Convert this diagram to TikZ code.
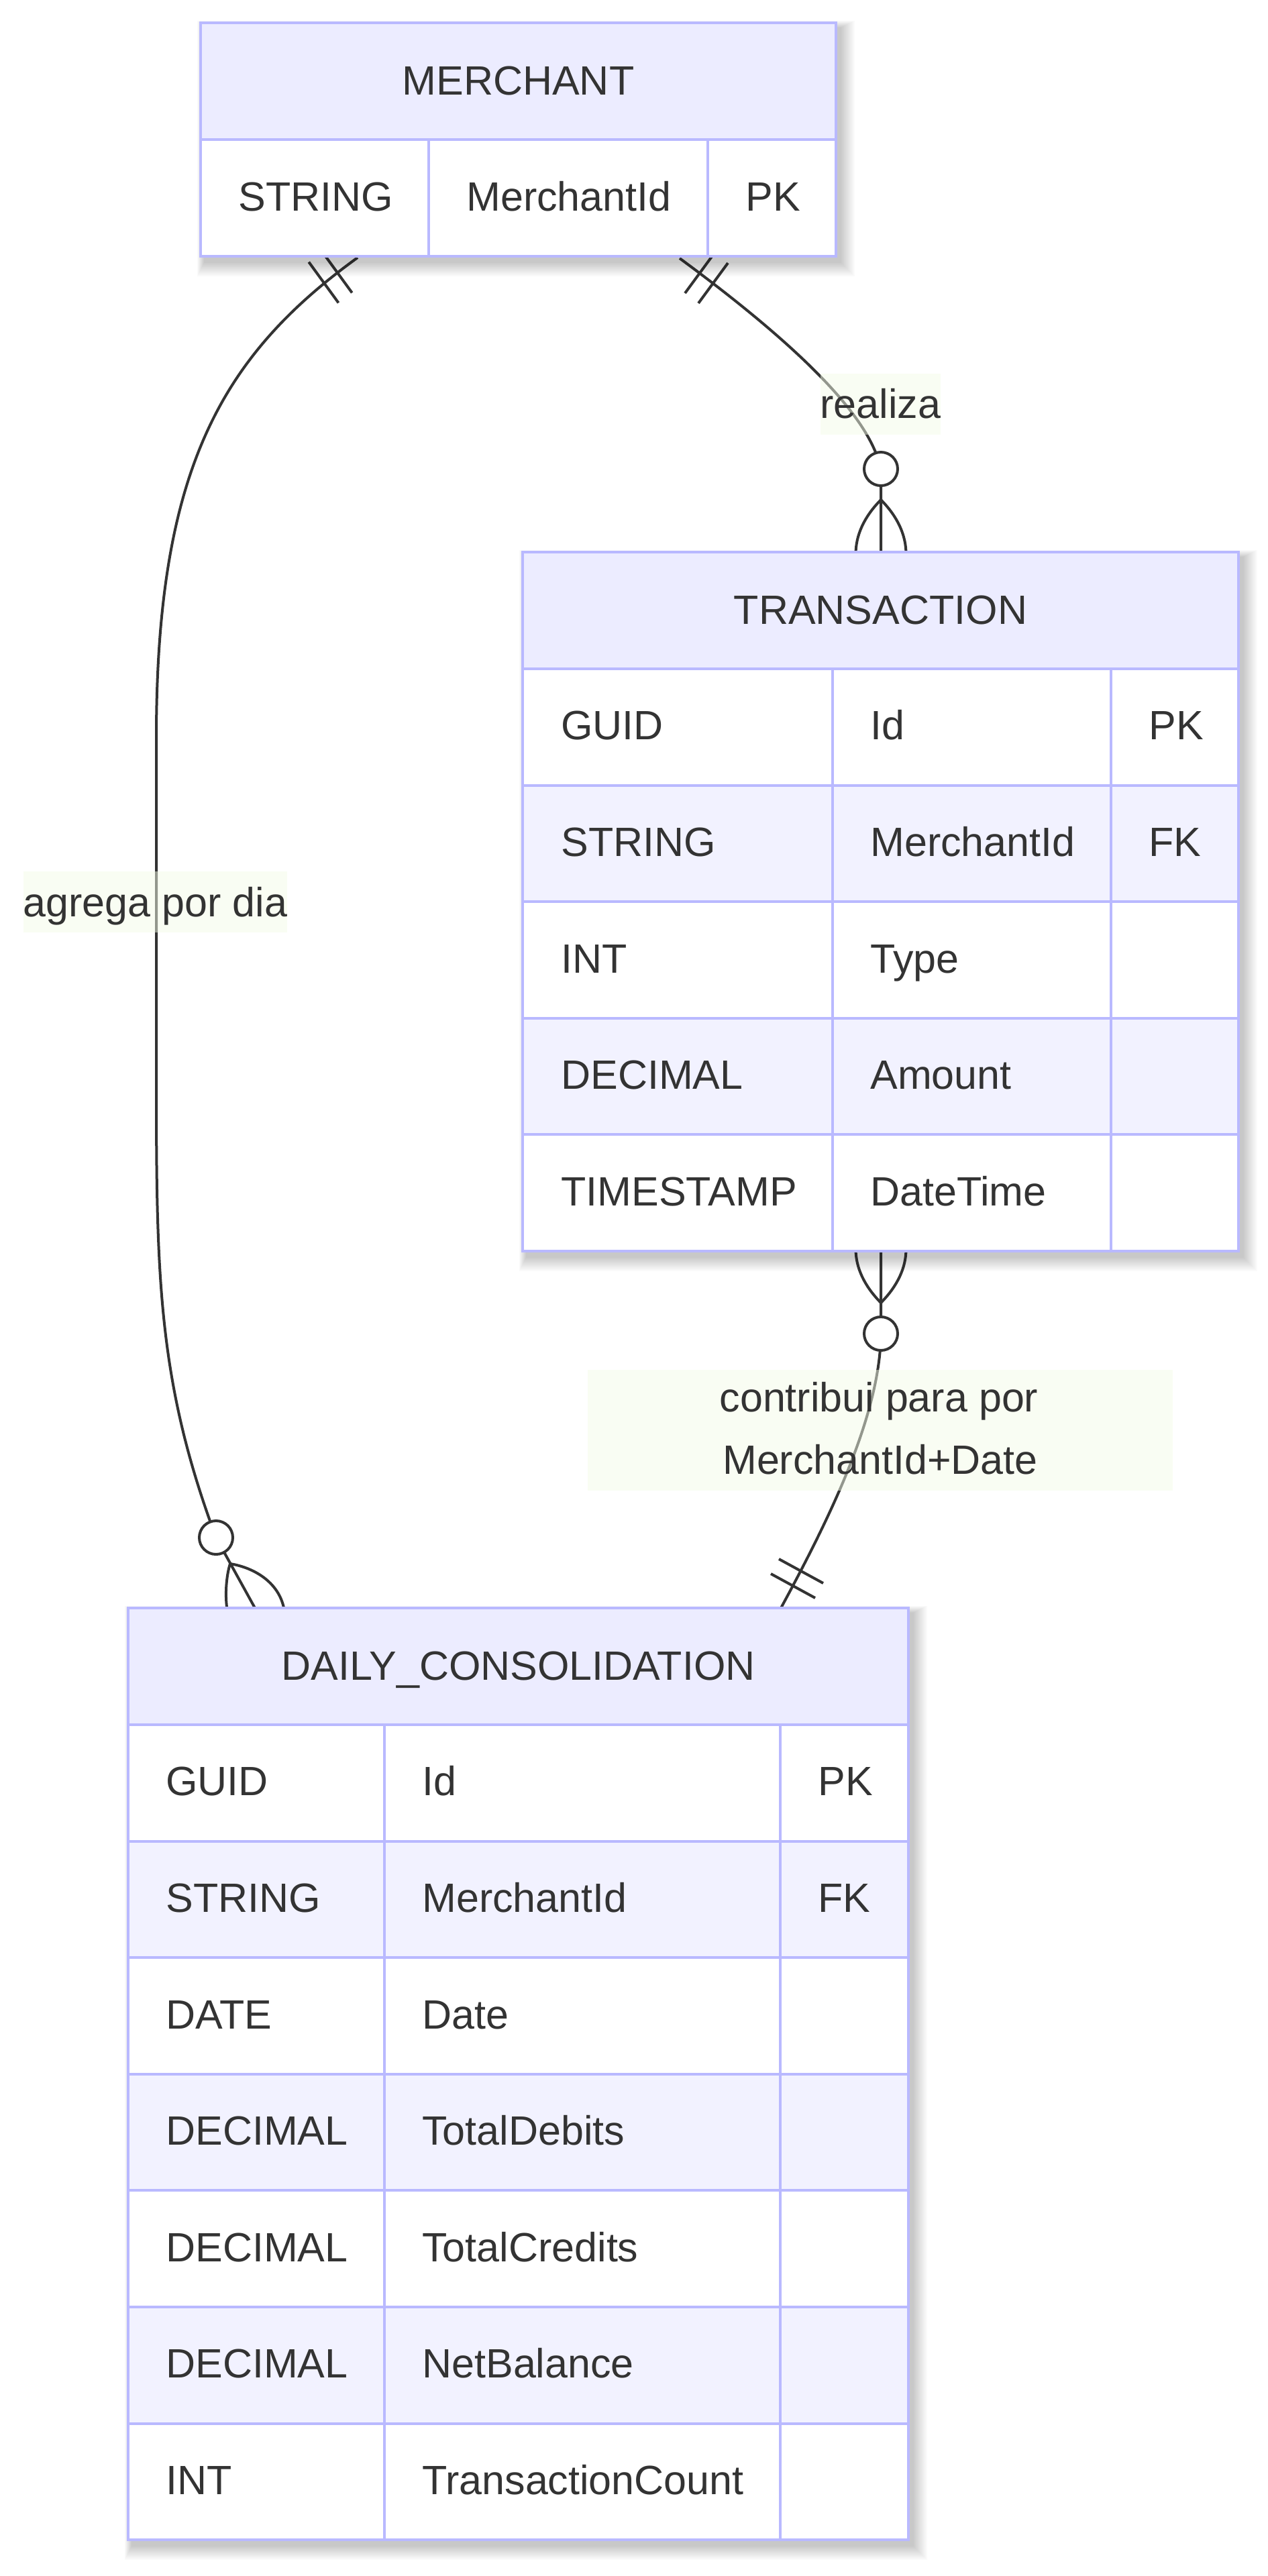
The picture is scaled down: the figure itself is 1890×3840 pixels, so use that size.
\documentclass[tikz,border=0pt]{standalone}
\usepackage{fontspec}
\setmainfont{Liberation Sans}
\usetikzlibrary{calc}
\definecolor{hdrfill}{HTML}{ECECFF}
\definecolor{rowalt}{HTML}{F2F2FF}
\definecolor{bord}{HTML}{B9B9FF}
\definecolor{ink}{HTML}{333333}
\definecolor{lblbg}{HTML}{F4FCE8}
\tikzset{
  edge/.style={draw=ink, line width=2pt},
  erm/.style={draw=ink, line width=2pt},
  gridline/.style={draw=bord, line width=2pt},
  txt/.style={font=\fontsize{30.5pt}{46.5pt}\selectfont, text=ink, inner sep=0pt},
  lblbox/.style={fill=lblbg, fill opacity=0.5, draw=none, inner sep=0pt},
  shadowlayer/.style={fill=black, opacity=0.02},
}
\begin{document}
\begin{tikzpicture}[x=0.5pt,y=-0.5pt]
\useasboundingbox (0,0) rectangle (1890,3840);
\fill[white] (0,0) rectangle (1890,3840);

% ---------- connector end points ----------
\coordinate (mL) at (533,384);
\coordinate (cL) at (322,2292);
\coordinate (dL) at (380,2397);
\coordinate (mR) at (1013,385);
\coordinate (cR) at (1313,699);
\coordinate (tT) at (1313,823);
\coordinate (tB) at (1313,1865);
\coordinate (cB) at (1313,1988);
\coordinate (dR) at (1164,2397);

% ---------- connectors ----------
% MERCHANT -> DAILY_CONSOLIDATION (agrega por dia)
\draw[edge] (mL) .. controls (330,531) and (233,700) .. (233,1100) -- (233,1600)
  .. controls (233,1900) and (234.5,2057) .. (cL) -- (dL);
% MERCHANT -> TRANSACTION (realiza)
\draw[edge] (mR) .. controls (1237,550) and (1300,640) .. (cR) -- (tT);
% TRANSACTION -> DAILY_CONSOLIDATION (contribui)
\draw[edge] (tB) -- (cB) .. controls (1312,2110) and (1235.6,2265) .. (dR);

% ---------- markers ----------
% only-one bars at MERCHANT (left)
\draw[erm] (480.5,375.6) -- (524.7,436.4);
\draw[erm] (460.3,390.6) -- (504.5,451.4);
% only-one bars at MERCHANT (right)
\draw[erm] (1021,437) -- (1065,377);
\draw[erm] (1041,452) -- (1085,392);
% only-one bars at DAILY (right)
\draw[erm] (1149,2346) -- (1215,2382);
\draw[erm] (1161,2324) -- (1227,2360);

% crow's foot at DAILY (left)
\draw[erm] (343,2331) .. controls (337,2350) and (335,2380) .. (339,2402);
\draw[erm] (343,2331) .. controls (380,2337) and (418,2360) .. (424,2402);
% crow's foot at TRANSACTION top
\draw[erm] (1313,745) .. controls (1288,770.3) and (1275.5,797.7) .. (1275.5,826);
\draw[erm] (1313,745) .. controls (1338,770.3) and (1350.5,797.7) .. (1350.5,826);
% crow's foot at TRANSACTION bottom
\draw[erm] (1313,1942) .. controls (1288,1916.7) and (1275.5,1889.3) .. (1275.5,1862);
\draw[erm] (1313,1942) .. controls (1338,1916.7) and (1350.5,1889.3) .. (1350.5,1862);

% zero circles
\draw[erm, fill=white] (cL) circle[radius=12.5pt];
\draw[erm, fill=white] (cR) circle[radius=12.5pt];
\draw[erm, fill=white] (cB) circle[radius=12.5pt];

% ---------- labels ----------
\node[lblbox, minimum width=89.5pt, minimum height=45.5pt] (lblR) at (1312.5,602.5) {};
\node[txt, anchor=base] (lblRt) at (1312.5,623.5) {realiza};
\node[lblbox, minimum width=196.5pt, minimum height=45.5pt] (lblL) at (231.5,1344.5) {};
\node[txt, anchor=base] (lblLt) at (231.5,1366) {agrega por dia};
\node[lblbox, minimum width=436pt, minimum height=90pt] (lblC) at (1312,2132) {};
\node[txt, anchor=base] (lblCt1) at (1310,2104) {contribui para por};
\node[txt, anchor=base] (lblCt2) at (1312,2197) {MerchantId+Date};

% ---------- MERCHANT ----------
\foreach \k in {1,...,11}
  \fill[shadowlayer] (299+6-\k,34+8-\k) rectangle (1246+6+2*\k,382+8+2*\k);
\fill[hdrfill] (299,34) rectangle (1246,208);
\fill[white] (299,208) rectangle (1246,382);
\draw[gridline] (299,208) -- (1246,208);
\draw[gridline] (639,208) -- (639,382);
\draw[gridline] (1055,208) -- (1055,382);
\node[gridline, inner sep=0pt, minimum width=473.5pt, minimum height=174pt] (merchant) at (772.5,208) {};
\node[txt, anchor=base] (merchantH) at (772.5,141) {MERCHANT};
\node[txt, anchor=base west] (m1a) at (355,314) {STRING};
\node[txt, anchor=base west] (m1b) at (695,314) {MerchantId};
\node[txt, anchor=base west] (m1c) at (1111,314) {PK};

% ---------- TRANSACTION ----------
\foreach \k in {1,...,11}
  \fill[shadowlayer] (779+6-\k,823+8-\k) rectangle (1846+6+2*\k,1865+8+2*\k);
\fill[hdrfill] (779,823) rectangle (1846,997);
\foreach \i/\f in {1/white,2/rowalt,3/white,4/rowalt,5/white}
  \fill[\f] (779,{997+173.6*(\i-1)}) rectangle (1846,{997+173.6*\i});
\foreach \i in {0,...,4}
  \draw[gridline] (779,{997+173.6*\i}) -- (1846,{997+173.6*\i});
\draw[gridline] (1241,997) -- (1241,1865);
\draw[gridline] (1656,997) -- (1656,1865);
\node[gridline, inner sep=0pt, minimum width=533.5pt, minimum height=521pt] (transaction) at (1312.5,1344) {};
\node[txt, anchor=base] (transactionH) at (1312.5,930) {TRANSACTION};
\foreach \i/\a/\b/\c in {1/GUID/Id/PK,2/STRING/MerchantId/FK,3/INT/Type/,4/DECIMAL/Amount/,5/TIMESTAMP/DateTime/}{
  \node[txt, anchor=base west] (t\i a) at (836,{997+173.6*(\i-0.5)+19}) {\a};
  \node[txt, anchor=base west] (t\i b) at (1297,{997+173.6*(\i-0.5)+19}) {\b};
  \node[txt, anchor=base west] (t\i c) at (1712,{997+173.6*(\i-0.5)+19}) {\c};
}

% ---------- DAILY_CONSOLIDATION ----------
\foreach \k in {1,...,11}
  \fill[shadowlayer] (191+6-\k,2397+8-\k) rectangle (1354+6+2*\k,3786+8+2*\k);
\fill[hdrfill] (191,2397) rectangle (1354,2571);
\foreach \i/\f in {1/white,2/rowalt,3/white,4/rowalt,5/white,6/rowalt,7/white}
  \fill[\f] (191,{2571+173.6*(\i-1)}) rectangle (1354,{2571+173.6*\i});
\foreach \i in {0,...,6}
  \draw[gridline] (191,{2571+173.6*\i}) -- (1354,{2571+173.6*\i});
\draw[gridline] (573,2571) -- (573,3786);
\draw[gridline] (1163,2571) -- (1163,3786);
\node[gridline, inner sep=0pt, minimum width=581.5pt, minimum height=694.5pt] (daily) at (772.5,3091.5) {};
\node[txt, anchor=base] (dailyH) at (772.5,2504) {DAILY\_CONSOLIDATION};
\foreach \i/\a/\b/\c in {1/GUID/Id/PK,2/STRING/MerchantId/FK,3/DATE/Date/,4/DECIMAL/TotalDebits/,5/DECIMAL/TotalCredits/,6/DECIMAL/NetBalance/,7/INT/TransactionCount/}{
  \node[txt, anchor=base west] (d\i a) at (247,{2571+173.6*(\i-0.5)+19}) {\a};
  \node[txt, anchor=base west] (d\i b) at (629,{2571+173.6*(\i-0.5)+19}) {\b};
  \node[txt, anchor=base west] (d\i c) at (1219,{2571+173.6*(\i-0.5)+19}) {\c};
}
\end{tikzpicture}
\end{document}
